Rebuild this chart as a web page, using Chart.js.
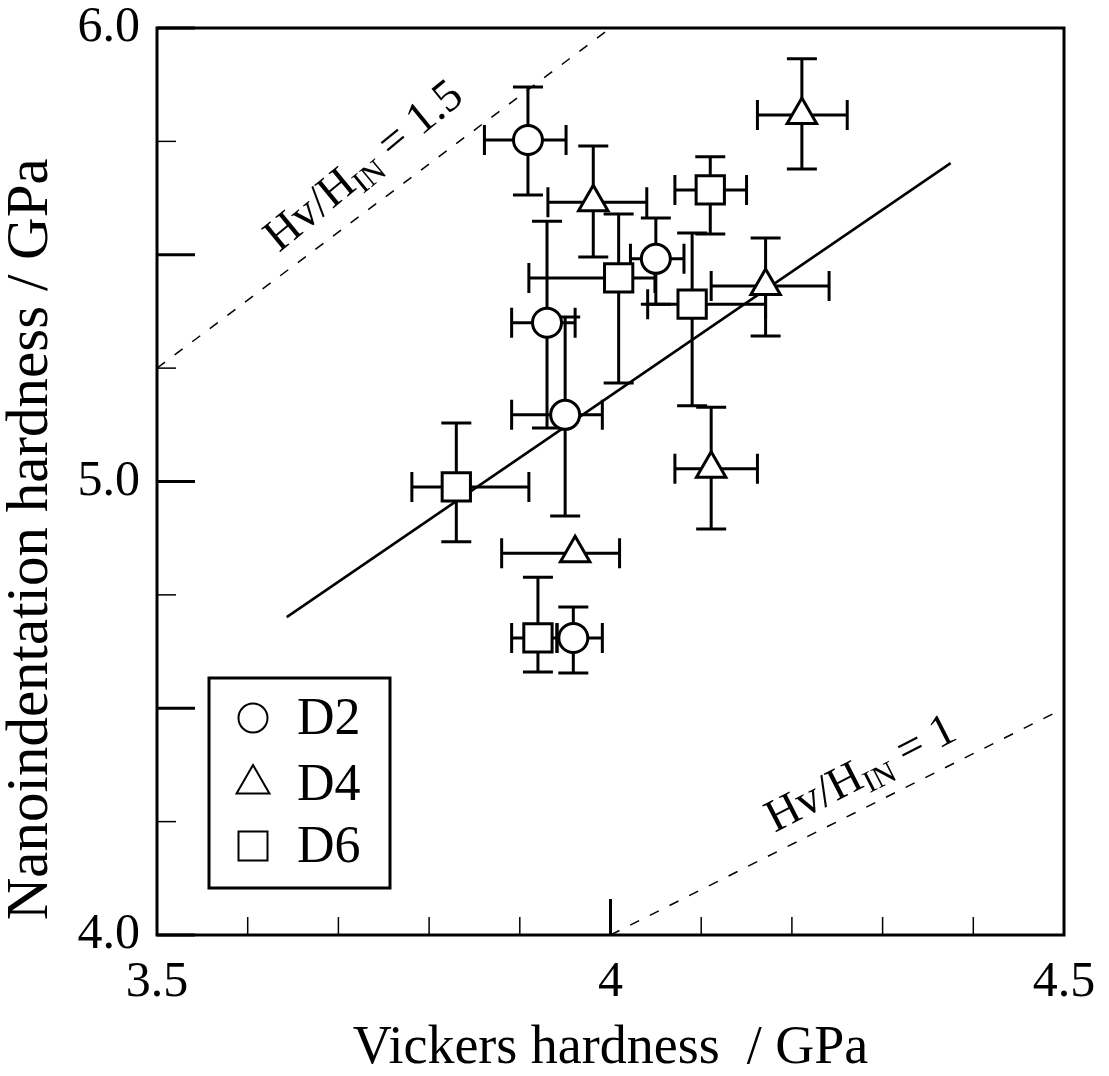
<!DOCTYPE html>
<html>
<head>
<meta charset="utf-8">
<script src="https://cdn.jsdelivr.net/npm/chart.js@4.4.0/dist/chart.umd.min.js"></script>
<style>
  html, body { margin: 0; padding: 0; background: #fff; }
</style>
</head>
<body>
<canvas id="chart" width="1109" height="1076"></canvas>
<script>
// Datos (GPa)
const d2X     = [3.909, 4.050, 3.930, 3.950, 3.959];
const d2Y     = [5.753, 5.491, 5.350, 5.147, 4.655];
const d2XLow  = [3.861, 4.022, 3.891, 3.891, 3.941];
const d2XHigh = [3.951, 4.081, 3.961, 3.991, 3.991];
const d2YLow  = [5.632, 5.391, 5.118, 4.924, 4.578];
const d2YHigh = [5.870, 5.581, 5.574, 5.363, 4.723];

const d4X     = [4.211, 3.981, 4.171, 4.111, 3.961];
const d4Y     = [5.808, 5.616, 5.431, 5.028, 4.842];
const d4XLow  = [4.162, 3.931, 4.111, 4.071, 3.880];
const d4XHigh = [4.261, 4.040, 4.241, 4.162, 4.010];
const d4YLow  = [5.689, 5.495, 5.321, 4.895, null];
const d4YHigh = [5.932, 5.740, 5.537, 5.164, null];

const d6X     = [4.110, 4.009, 4.090, 3.830, 3.920];
const d6Y     = [5.643, 5.449, 5.391, 4.988, 4.655];
const d6XLow  = [4.071, 3.910, 4.041, 3.781, 3.891];
const d6XHigh = [4.150, 4.049, 4.171, 3.910, 3.941];
const d6YLow  = [5.546, 5.217, 5.167, 4.867, 4.580];
const d6YHigh = [5.716, 5.590, 5.548, 5.129, 4.789];

// Recta de ajuste y rectas Hv/HIN
const fitX = [3.643, 4.375];
const fitY = [4.701, 5.702];
const ratio15X = [3.5, 4.0];
const ratio15Y = [5.25, 6.0];
const ratio1X = [4.0, 4.5];
const ratio1Y = [4.0, 4.5];

const xTickLabels = { 3.5: '3.5', 4: '4', 4.5: '4.5' };
const yTickLabels = { 4: '4.0', 5: '5.0', 6: '6.0' };

const FONT = 'Liberation Serif';

function points(xs, ys, xl, xh, yl, yh) {
    return xs.map((x, i) => ({ x: x, y: ys[i], xMin: xl[i], xMax: xh[i], yMin: yl[i], yMax: yh[i] }));
}
function line(xs, ys) {
    return xs.map((x, i) => ({ x: x, y: ys[i] }));
}

// Barras de error, dibujadas con las escalas del gráfico
const errorBars = {
    id: 'errorBars',
    beforeDatasetsDraw(chart) {
        const { ctx, scales: { x, y } } = chart;
        const cap = 15;
        ctx.save();
        ctx.strokeStyle = '#000';
        ctx.lineWidth = 3;
        chart.data.datasets.forEach(ds => {
            if (!ds.errors) return;
            ds.data.forEach(p => {
                const px = x.getPixelForValue(p.x);
                const py = y.getPixelForValue(p.y);
                ctx.beginPath();
                if (p.xMin != null) {
                    const l = x.getPixelForValue(p.xMin), r = x.getPixelForValue(p.xMax);
                    ctx.moveTo(l, py); ctx.lineTo(r, py);
                    ctx.moveTo(l, py - cap); ctx.lineTo(l, py + cap);
                    ctx.moveTo(r, py - cap); ctx.lineTo(r, py + cap);
                }
                if (p.yMin != null) {
                    const b = y.getPixelForValue(p.yMin), t = y.getPixelForValue(p.yMax);
                    ctx.moveTo(px, b); ctx.lineTo(px, t);
                    ctx.moveTo(px - cap, b); ctx.lineTo(px + cap, b);
                    ctx.moveTo(px - cap, t); ctx.lineTo(px + cap, t);
                }
                ctx.stroke();
            });
        });
        ctx.restore();
    }
};

// Marco y marcas de los ejes (hacia dentro)
const frame = {
    id: 'frame',
    afterDatasetsDraw(chart) {
        const { ctx, chartArea: a, scales: { x, y } } = chart;
        ctx.save();
        ctx.strokeStyle = '#000';
        for (let i = 1; i < 10; i++) {
            const px = x.getPixelForValue(3.5 + i * 0.1);
            const major = i === 5;
            ctx.lineWidth = major ? 3 : 1.5;
            ctx.beginPath();
            ctx.moveTo(px, a.bottom);
            ctx.lineTo(px, a.bottom - (major ? 36 : 18));
            ctx.stroke();
        }
        for (let i = 0; i <= 8; i++) {
            const py = y.getPixelForValue(4 + i * 0.25);
            const major = i % 2 === 0;
            ctx.lineWidth = major ? 3 : 1.5;
            ctx.beginPath();
            ctx.moveTo(a.left, py);
            ctx.lineTo(a.left + (major ? 38 : 19), py);
            ctx.stroke();
        }
        ctx.lineWidth = 3;
        ctx.strokeRect(a.left, a.top, a.right - a.left, a.bottom - a.top);
        ctx.restore();
    }
};

// Etiquetas Hv/HIN sobre las rectas discontinuas
function ratioLabel(chart, xs, ys, anchorX, text, offset, tilt) {
    const { ctx, scales: { x, y } } = chart;
    const x0 = x.getPixelForValue(xs[0]), y0 = y.getPixelForValue(ys[0]);
    const x1 = x.getPixelForValue(xs[1]), y1 = y.getPixelForValue(ys[1]);
    const ang = Math.atan2(y0 - y1, x1 - x0);
    const k = (anchorX - xs[0]) / (xs[1] - xs[0]);
    const ax = x.getPixelForValue(anchorX);
    const ay = y.getPixelForValue(ys[0] + k * (ys[1] - ys[0]));
    ctx.save();
    ctx.translate(ax - Math.sin(ang) * offset, ay - Math.cos(ang) * offset);
    ctx.rotate(-ang - tilt * Math.PI / 180);
    ctx.fillStyle = '#000';
    ctx.textBaseline = 'alphabetic';
    let cx = 0;
    const parts = [['Hv/H', 46, 0], ['IN', 31, 8], [' = ' + text, 46, 0]];
    parts.forEach(p => {
        ctx.font = p[1] + 'px "' + FONT + '"';
        ctx.fillText(p[0], cx, p[2]);
        cx += ctx.measureText(p[0]).width;
    });
    ctx.restore();
}

const labels = {
    id: 'labels',
    afterDatasetsDraw(chart) {
        ratioLabel(chart, ratio15X, ratio15Y, 3.647, '1.5', 19, 2.5);
        ratioLabel(chart, ratio1X, ratio1Y, 4.190, '1', 18, 0.5);
    }
};

// Leyenda con recuadro dentro del área del gráfico
const legendBox = {
    id: 'legendBox',
    afterDraw(chart) {
        const { ctx, chartArea: a } = chart;
        const bx = a.left + 52, by = a.bottom - 257, bw = 181, bh = 210;
        ctx.save();
        ctx.strokeStyle = '#000';
        ctx.lineWidth = 3;
        ctx.strokeRect(bx, by, bw, bh);
        const rows = [40, 106, 168];
        chart.data.datasets.filter(d => d.legendRadius).forEach((d, i) => {
            const cy = by + rows[i];
            ctx.fillStyle = '#fff';
            ctx.lineWidth = 2;
            Chart.helpers.drawPoint(ctx, { pointStyle: d.pointStyle, radius: d.legendRadius, borderWidth: 2, rotation: 0 }, bx + 44, cy);
            ctx.fillStyle = '#000';
            ctx.font = '52px "' + FONT + '"';
            ctx.textBaseline = 'middle';
            ctx.fillText(d.label, bx + 88, cy + 2);
        });
        ctx.restore();
    }
};

const markerBase = {
    showLine: false,
    borderColor: '#000',
    backgroundColor: '#fff',
    pointBorderWidth: 3,
    errors: true,
    order: 0
};
const lineBase = {
    showLine: true,
    pointRadius: 0,
    borderColor: '#000',
    order: 1
};

new Chart(document.getElementById('chart'), {
    type: 'scatter',
    data: {
        datasets: [
            Object.assign({ label: 'D2', data: points(d2X, d2Y, d2XLow, d2XHigh, d2YLow, d2YHigh), pointStyle: 'circle', pointRadius: 14.5, legendRadius: 14.5 }, markerBase),
            Object.assign({ label: 'D4', data: points(d4X, d4Y, d4XLow, d4XHigh, d4YLow, d4YHigh), pointStyle: 'triangle', pointRadius: 17, legendRadius: 19 }, markerBase),
            Object.assign({ label: 'D6', data: points(d6X, d6Y, d6XLow, d6XHigh, d6YLow, d6YHigh), pointStyle: 'rect', pointRadius: 20, legendRadius: 20.5 }, markerBase),
            Object.assign({ label: 'fit', data: line(fitX, fitY), borderWidth: 2.5 }, lineBase),
            Object.assign({ label: 'Hv/HIN = 1.5', data: line(ratio15X, ratio15Y), borderWidth: 1.5, borderDash: [10, 12] }, lineBase),
            Object.assign({ label: 'Hv/HIN = 1', data: line(ratio1X, ratio1Y), borderWidth: 1.5, borderDash: [10, 12] }, lineBase)
        ]
    },
    options: {
        responsive: false,
        animation: false,
        events: [],
        layout: { padding: { top: 28, right: 45, left: 0, bottom: 0 } },
        plugins: { legend: { display: false }, tooltip: { enabled: false } },
        scales: {
            x: {
                type: 'linear', min: 3.5, max: 4.5,
                afterFit: s => { s.height = 141; s.paddingLeft = 0; s.paddingRight = 0; },
                grid: { display: false, drawTicks: false },
                border: { display: false },
                ticks: {
                    stepSize: 0.5, padding: 23, color: '#000', maxRotation: 0, autoSkip: false,
                    font: { family: FONT, size: 50, lineHeight: 1 },
                    callback: v => xTickLabels[v] || ''
                },
                title: {
                    display: true, text: 'Vickers hardness  / GPa', color: '#000',
                    font: { family: FONT, size: 54, lineHeight: 1 },
                    padding: { top: 0, bottom: 0 }
                }
            },
            y: {
                type: 'linear', min: 4, max: 6,
                afterFit: s => { s.width = 157; s.paddingTop = 0; s.paddingBottom = 0; },
                grid: { display: false, drawTicks: false },
                border: { display: false },
                ticks: {
                    stepSize: 1, padding: 17, color: '#000',
                    font: { family: FONT, size: 50, lineHeight: 1 },
                    callback: v => yTickLabels[v] || ''
                },
                title: {
                    display: true, text: ' Nanoindentation hardness / GPa', color: '#000', align: 'start',
                    font: { family: FONT, size: 59, lineHeight: 1 },
                    padding: { top: 2, bottom: 0 }
                }
            }
        }
    },
    plugins: [errorBars, frame, labels, legendBox]
});
</script>
</body>
</html>
